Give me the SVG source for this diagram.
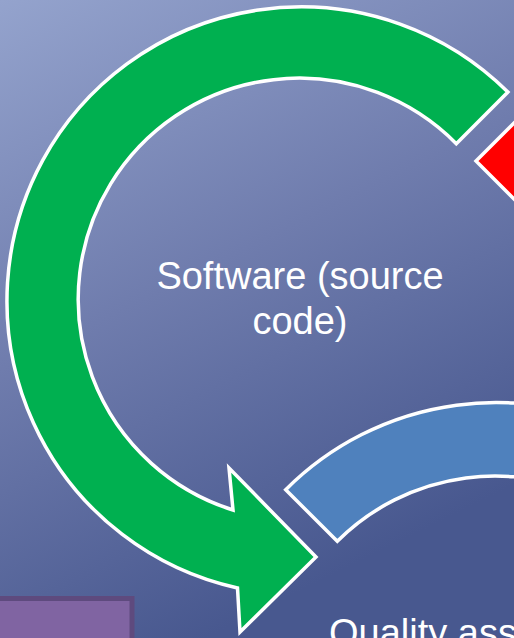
<svg xmlns="http://www.w3.org/2000/svg" width="514" height="638" viewBox="0 0 514 638">
  <defs>
    <linearGradient id="bg" x1="0" y1="0" x2="0.4" y2="1">
      <stop offset="0" stop-color="#94a3cd"/>
      <stop offset="0.5" stop-color="#6f7cad"/>
      <stop offset="1" stop-color="#48588f"/>
    </linearGradient>
    <style>
      .arrow { stroke: #ffffff; stroke-width: 3.5; stroke-linejoin: miter; }
      .label { font-family: "Liberation Sans", Arial, sans-serif; font-size: 38px; fill: #ffffff; }
    </style>
  </defs>
  <rect x="0" y="0" width="514" height="638" fill="url(#bg)"/>

  <g id="red-arrow">
    <path class="arrow" fill="#ff0000" d="M 476 161 L 518 119 L 518 203 Z"/>
  </g>

  <g id="blue-arrow">
    <path class="arrow" fill="#4f81bd" d="M 285.7 489.7 A 297 297 0 0 1 643.5 441.8 L 606.5 506 A 223 223 0 0 0 337.3 541.3 Z"/>
  </g>

  <g id="green-arrow">
    <path class="arrow" fill="#00b050" d="M 507.9 92.1 A 294 294 0 1 0 237.5 588 L 240 632 L 316 557 L 229 468 L 233 510 A 221 221 0 1 1 456.3 143.7 Z"/>
  </g>

  <g id="purple-box">
    <rect x="-10" y="598.5" width="142" height="60" fill="#8064a2" stroke="#5e4a7e" stroke-width="5"/>
  </g>

  <g id="connectors"></g>

  <g id="label-software">
    <text class="label" x="300" y="289" text-anchor="middle">Software (source</text>
    <text class="label" x="300" y="334" text-anchor="middle">code)</text>
  </g>

  <g id="label-quality">
    <text class="label" x="329" y="646">Quality ass</text>
  </g>
</svg>
